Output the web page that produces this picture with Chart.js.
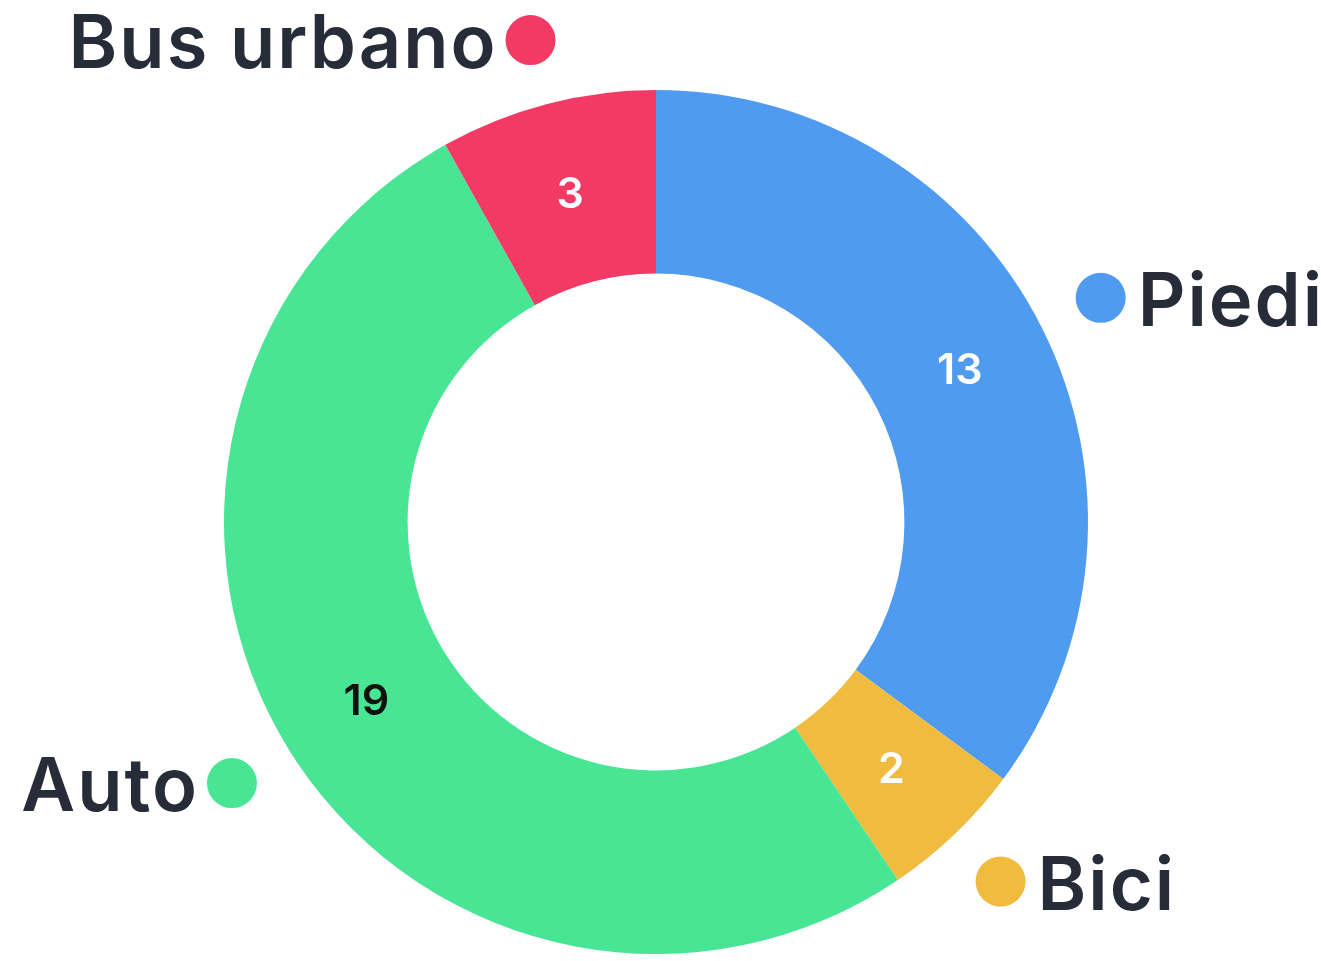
<!DOCTYPE html>
<html>
<head>
<meta charset="utf-8">
<script src="https://cdn.jsdelivr.net/npm/chart.js@4/dist/chart.umd.min.js"></script>
<style>
  html, body { margin: 0; padding: 0; background: #ffffff; }
  #wrap { width: 1321px; height: 961px; }
</style>
</head>
<body>
<div id="wrap"><canvas id="c" width="1321" height="961"></canvas></div>
<script>
const categories = ["Piedi", "Bici", "Auto", "Bus urbano"];
const values = [13, 2, 19, 3];
const colors = ["#4e9bef", "#f0bb3e", "#48e595", "#f23a65"];
const valueLabelColors = ["#ffffff", "#ffffff", "#111111", "#ffffff"];

const FONT = "Inter, 'Noto Sans', sans-serif";
const TEXT_COLOR = "#262c38";

const labelPlugin = {
  id: 'outerLabels',
  afterDatasetsDraw(chart) {
    const ctx = chart.ctx;
    const meta = chart.getDatasetMeta(0);
    meta.data.forEach((arc, i) => {
      const p = arc.getProps(['x', 'y', 'startAngle', 'endAngle', 'innerRadius', 'outerRadius'], true);
      const mid = (p.startAngle + p.endAngle) / 2;
      const cos = Math.cos(mid), sin = Math.sin(mid);
      // value label in ring middle
      const rm = (p.innerRadius + p.outerRadius) / 2;
      ctx.save();
      ctx.font = "600 43px " + FONT;
      ctx.fillStyle = valueLabelColors[i];
      ctx.textAlign = 'center';
      ctx.textBaseline = 'middle';
      ctx.fillText(String(values[i]), p.x + cos * rm, p.y + sin * rm + 2);
      // dot + category label outside
      const rd = p.outerRadius + 66;
      const dx = p.x + cos * rd, dy = p.y + sin * rd;
      ctx.beginPath();
      ctx.arc(dx, dy, 25, 0, Math.PI * 2);
      ctx.fillStyle = colors[i];
      ctx.fill();
      ctx.font = "600 74px " + FONT;
      if ('letterSpacing' in ctx) ctx.letterSpacing = '2px';
      ctx.fillStyle = TEXT_COLOR;
      ctx.textBaseline = 'alphabetic';
      if (dx >= p.x) {
        ctx.textAlign = 'left';
        ctx.fillText(categories[i], dx + 37, dy + 28);
      } else {
        ctx.textAlign = 'right';
        ctx.fillText(categories[i], dx - 33, dy + 28);
      }
      ctx.restore();
    });
  }
};

new Chart(document.getElementById('c'), {
  type: 'doughnut',
  data: {
    labels: categories,
    datasets: [{
      data: values,
      backgroundColor: colors,
      borderWidth: 0,
      hoverOffset: 0
    }]
  },
  options: {
    responsive: false,
    animation: false,
    cutout: '57.5%',
    layout: { padding: { top: 90, bottom: 7, left: 0, right: 9 } },
    plugins: {
      legend: { display: false },
      tooltip: { enabled: false }
    }
  },
  plugins: [labelPlugin]
});
</script>
</body>
</html>
